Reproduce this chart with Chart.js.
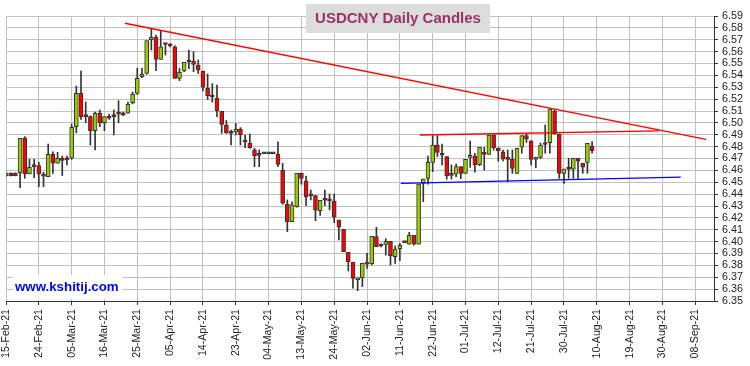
<!DOCTYPE html>
<html>
<head>
<meta charset="utf-8">
<title>USDCNY Daily Candles</title>
<script src="https://cdn.jsdelivr.net/npm/chart.js@4.4.1/dist/chart.umd.min.js"></script>
<style>
  html, body { margin: 0; padding: 0; background: #fff; }
</style>
</head>
<body>
<canvas id="chart" width="750" height="366"></canvas>
<script>
// x axis: one slot per trading day, a label every 7 days
const tickLabels = ['15-Feb-21','24-Feb-21','05-Mar-21','16-Mar-21','25-Mar-21','05-Apr-21','14-Apr-21',
  '23-Apr-21','04-May-21','13-May-21','24-May-21','02-Jun-21','11-Jun-21','22-Jun-21','01-Jul-21',
  '12-Jul-21','21-Jul-21','30-Jul-21','10-Aug-21','19-Aug-21','30-Aug-21','08-Sep-21'];

// daily candles, 15-Feb-21 .. 09-Aug-21
const opens = [
  6.4553,6.4578,6.4578,6.4580,6.4870,6.4570,6.4648,6.4641,6.4556,6.4547,
  6.4735,6.4660,6.4702,6.4692,6.4702,6.4968,6.5249,6.5056,6.5052,6.4934,
  6.5081,6.5002,6.5058,6.5057,6.5077,6.5079,6.5081,6.5170,6.5249,6.5389,
  6.5417,6.5700,6.5721,6.5535,6.5664,6.5652,6.5641,6.5375,6.5437,6.5517,
  6.5521,6.5487,6.5437,6.5291,6.5222,6.5207,6.5097,6.4982,6.4916,6.4923,
  6.4948,6.4842,6.4828,6.4772,6.4730,6.4740,6.4740,6.4740,6.4735,6.4603,
  6.4317,6.4168,6.4294,6.4575,6.4511,6.4390,6.4387,6.4261,6.4353,6.4347,
  6.4342,6.4182,6.4104,6.3910,6.3826,6.3680,6.3695,6.3814,6.3814,6.4042,
  6.3968,6.3977,6.4003,6.3873,6.3941,6.3996,6.3978,6.4053,6.3978,6.4491,
  6.4533,6.4667,6.4814,6.4744,6.4716,6.4562,6.4567,6.4631,6.4575,6.4710,
  6.4721,6.4648,6.4755,6.4735,6.4898,6.4786,6.4757,6.4696,6.4693,6.4575,
  6.4795,6.4892,6.4848,6.4693,6.4710,6.4822,6.4833,6.5100,6.4906,6.4575,
  6.4611,6.4611,6.4702,6.4660,6.4667,6.4805];
const highs = [
  6.4580,6.4580,6.4580,6.4870,6.4884,6.4693,6.4693,6.4668,6.4584,6.4822,
  6.4757,6.4752,6.4721,6.4721,6.4991,6.5311,6.5437,6.5176,6.5060,6.5090,
  6.5108,6.5052,6.5072,6.5108,6.5187,6.5090,6.5176,6.5260,6.5460,6.5460,
  6.5692,6.5796,6.5740,6.5774,6.5670,6.5665,6.5650,6.5460,6.5510,6.5614,
  6.5600,6.5530,6.5437,6.5412,6.5330,6.5319,6.5097,6.5020,6.4940,6.4996,
  6.4960,6.4898,6.4906,6.4786,6.4772,6.4740,6.4740,6.4740,6.4841,6.4660,
  6.4351,6.4336,6.4575,6.4578,6.4553,6.4435,6.4390,6.4348,6.4435,6.4401,
  6.4401,6.4182,6.4104,6.3910,6.3826,6.3690,6.3817,6.3901,6.4045,6.4121,
  6.3980,6.4025,6.4003,6.3963,6.3985,6.4000,6.4078,6.4053,6.4485,6.4527,
  6.4721,6.4892,6.4892,6.4822,6.4716,6.4645,6.4654,6.4631,6.4693,6.4847,
  6.4744,6.4794,6.4794,6.4898,6.4898,6.4790,6.4770,6.4772,6.4772,6.4786,
  6.4892,6.4906,6.4848,6.4710,6.4830,6.4982,6.5117,6.5110,6.4906,6.4611,
  6.4702,6.4702,6.4702,6.4660,6.4828,6.4842];
const lows = [
  6.4550,6.4553,6.4553,6.4454,6.4533,6.4570,6.4538,6.4463,6.4463,6.4547,
  6.4575,6.4660,6.4556,6.4645,6.4693,6.4917,6.5030,6.5002,6.4814,6.4772,
  6.4968,6.4934,6.5030,6.4898,6.5002,6.5060,6.5081,6.5160,6.5240,6.5380,
  6.5410,6.5614,6.5439,6.5535,6.5572,6.5640,6.5375,6.5355,6.5430,6.5456,
  6.5431,6.5415,6.5270,6.5198,6.5175,6.5052,6.4912,6.4912,6.4814,6.4898,
  6.4814,6.4791,6.4786,6.4631,6.4631,6.4740,6.4740,6.4740,6.4631,6.4314,
  6.4084,6.4168,6.4290,6.4483,6.4302,6.4351,6.4176,6.4220,6.4302,6.4267,
  6.4160,6.4014,6.3915,6.3753,6.3607,6.3587,6.3621,6.3775,6.3805,6.3958,
  6.3955,6.3887,6.3803,6.3817,6.3840,6.3990,6.3978,6.3970,6.3978,6.4336,
  6.4483,6.4589,6.4716,6.4645,6.4525,6.4527,6.4547,6.4530,6.4575,6.4626,
  6.4584,6.4640,6.4603,6.4735,6.4770,6.4677,6.4680,6.4505,6.4575,6.4575,
  6.4744,6.4835,6.4645,6.4622,6.4700,6.4744,6.4744,6.4906,6.4533,6.4491,
  6.4533,6.4533,6.4533,6.4575,6.4575,6.4744];
const closes = [
  6.4578,6.4555,6.4555,6.4870,6.4570,6.4626,6.4632,6.4570,6.4551,6.4735,
  6.4660,6.4702,6.4684,6.4688,6.4963,6.5249,6.5052,6.5052,6.4934,6.5081,
  6.5002,6.5052,6.5039,6.5053,6.5073,6.5067,6.5156,6.5241,6.5375,6.5409,
  6.5692,6.5720,6.5535,6.5641,6.5660,6.5648,6.5375,6.5426,6.5510,6.5513,
  6.5493,6.5443,6.5300,6.5229,6.5218,6.5103,6.4988,6.4917,6.4912,6.4946,
  6.4898,6.4838,6.4791,6.4724,6.4726,6.4740,6.4740,6.4740,6.4651,6.4323,
  6.4168,6.4309,6.4575,6.4533,6.4378,6.4385,6.4264,6.4348,6.4349,6.4343,
  6.4205,6.4121,6.3915,6.3831,6.3691,6.3687,6.3817,6.3810,6.4045,6.3958,
  6.3964,6.4003,6.3882,6.3938,6.3969,6.3992,6.4053,6.3978,6.4485,6.4527,
  6.4668,6.4814,6.4752,6.4727,6.4555,6.4558,6.4631,6.4575,6.4693,6.4720,
  6.4648,6.4794,6.4735,6.4898,6.4791,6.4766,6.4695,6.4692,6.4617,6.4786,
  6.4892,6.4862,6.4693,6.4710,6.4814,6.4818,6.5117,6.4906,6.4575,6.4611,
  6.4611,6.4702,6.4678,6.4626,6.4828,6.4766];

// trend lines (day index, price)
const downTrendX = [25.4, 149.3];
const downTrendY = [6.5839, 6.4862];
const upperBandX = [88.3, 139.3];
const upperBandY = [6.4898, 6.4932];
const lowerBandX = [84.2, 143.9];
const lowerBandY = [6.4491, 6.4544];

const UP = '#99cc00', DOWN = '#ff0000', EDGE = '#333333';
const FONT = "'Liberation Sans', Arial, sans-serif";

const days = opens.map((_, i) => i);
const bodies = days.map(i => ({ x: i, y: [opens[i], closes[i]] }));
const wicks = days.map(i => ({ x: i, y: [lows[i], highs[i]] }));
const bodyColors = days.map(i => closes[i] > opens[i] ? UP : (closes[i] < opens[i] ? DOWN : EDGE));
const toPoints = (xs, ys) => xs.map((x, k) => ({ x: x, y: ys[k] }));

function lineSet(xs, ys, color) {
  return {
    type: 'line', data: toPoints(xs, ys), borderColor: color, borderWidth: 1.3,
    pointRadius: 0, fill: false, tension: 0
  };
}

// title box and site tag, drawn on top of the plot
const decorations = {
  id: 'decorations',
  afterDraw(chart) {
    const ctx = chart.ctx;
    ctx.save();
    ctx.fillStyle = '#dcdcdc';
    ctx.fillRect(306, 4, 184, 29);
    ctx.fillStyle = '#993366';
    ctx.font = 'bold 15px ' + FONT;
    ctx.textAlign = 'center';
    ctx.textBaseline = 'middle';
    ctx.fillText('USDCNY Daily Candles', 398, 18.5);

    ctx.fillStyle = '#ffffff';
    ctx.fillRect(13, 275, 109, 24);
    ctx.fillStyle = '#0000ff';
    ctx.font = 'bold 13.3px ' + FONT;
    ctx.textAlign = 'left';
    ctx.textBaseline = 'alphabetic';
    ctx.fillText('www.kshitij.com', 15, 291);
    ctx.restore();
  }
};

new Chart(document.getElementById('chart').getContext('2d'), {
  type: 'bar',
  data: {
    datasets: [
      lineSet(downTrendX, downTrendY, '#ff0000'),
      lineSet(upperBandX, upperBandY, '#ff0000'),
      lineSet(lowerBandX, lowerBandY, '#0000ff'),
      { data: bodies, backgroundColor: bodyColors, borderColor: EDGE, borderWidth: 1,
        borderSkipped: false, barThickness: 4, minBarLength: 2, grouped: false },
      { data: wicks, backgroundColor: EDGE, borderWidth: 0, barThickness: 1, grouped: false }
    ]
  },
  options: {
    responsive: false,
    animation: false,
    layout: { padding: { left: 6, top: 16, right: 0, bottom: 0 } },
    plugins: { legend: { display: false }, tooltip: { enabled: false } },
    scales: {
      x: {
        type: 'linear', min: 0, max: 151, offset: false, bounds: 'data',
        afterBuildTicks: s => { s.ticks = tickLabels.map((_, k) => ({ value: k * 7 })); },
        afterFit: s => { s.height = 65; },
        grid: { color: '#c0c0c0', offset: false, tickColor: EDGE, tickLength: 4 },
        border: { color: EDGE, width: 1 },
        ticks: {
          autoSkip: false, maxRotation: 90, minRotation: 90, padding: 4,
          color: '#222', font: { family: FONT, size: 10.6 },
          callback: v => tickLabels[Math.round(v / 7)]
        }
      },
      y: {
        position: 'right', min: 6.35, max: 6.59,
        afterFit: s => { s.width = 36; },
        grid: { color: '#c0c0c0', tickColor: EDGE, tickLength: 4 },
        border: { color: EDGE, width: 1 },
        ticks: {
          stepSize: 0.01, autoSkip: false, padding: 4, color: '#222',
          font: { family: FONT, size: 10.8 },
          callback: v => v.toFixed(2)
        }
      }
    }
  },
  plugins: [decorations]
});
</script>
</body>
</html>
